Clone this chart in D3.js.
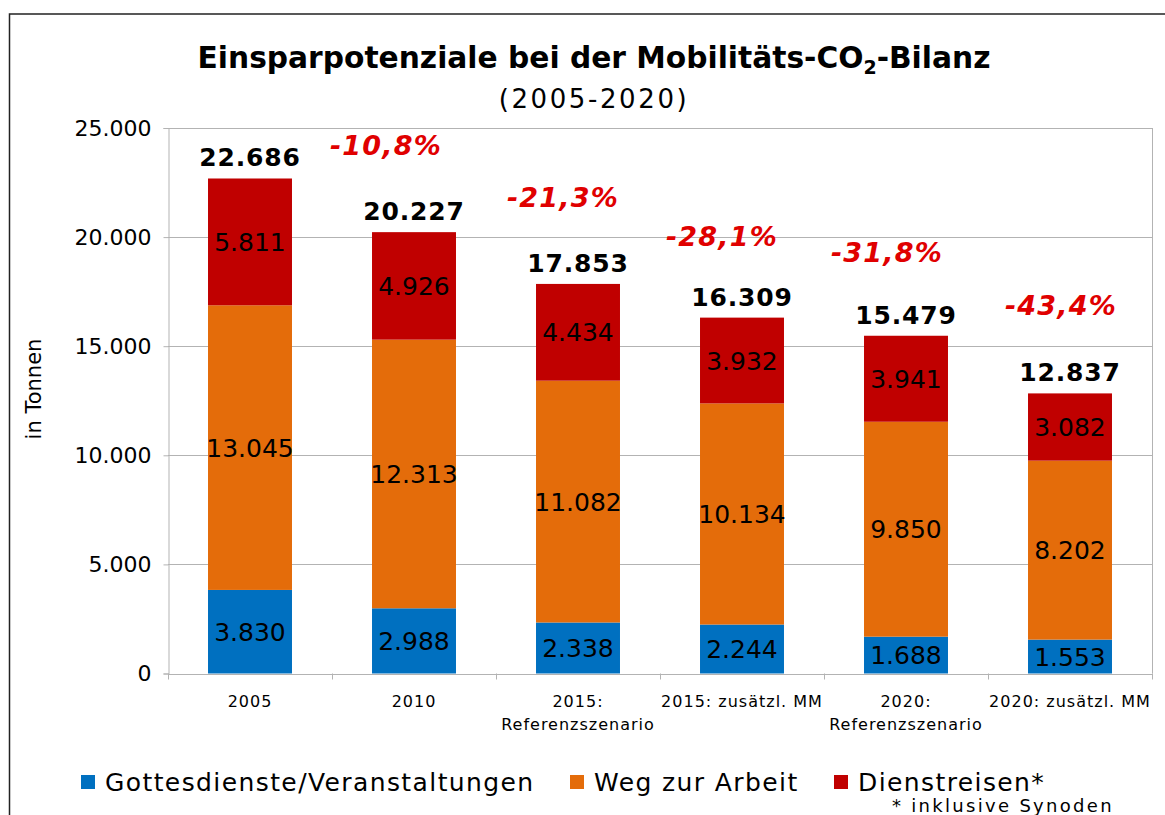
<!DOCTYPE html>
<html>
<head>
<meta charset="utf-8">
<script src="https://cdn.jsdelivr.net/npm/d3@7"></script>
<style>
  body { margin: 0; background: #fff; }
  text { font-family: "DejaVu Sans", Verdana, sans-serif; }
</style>
</head>
<body>
<script>
// Values
var categories = [["2005"], ["2010"], ["2015:", "Referenzszenario"], ["2015: zusätzl. MM"], ["2020:", "Referenzszenario"], ["2020: zusätzl. MM"]];
var seriesNames = ["Gottesdienste/Veranstaltungen", "Weg zur Arbeit", "Dienstreisen*"];
var gottesdienste = [3830, 2988, 2338, 2244, 1688, 1553];
var wegZurArbeit = [13045, 12313, 11082, 10134, 9850, 8202];
var dienstreisen = [5811, 4926, 4434, 3932, 3941, 3082];
var totals = [22686, 20227, 17853, 16309, 15479, 12837];
var changes = [null, "-10,8%", "-21,3%", "-28,1%", "-31,8%", "-43,4%"];
var yTicks = [0, 5000, 10000, 15000, 20000, 25000];
var colors = ["#0070c0", "#e46c0a", "#c00000"];

var width = 1165, height = 815;
var plotLeft = 168, plotRight = 1152, plotTop = 128, plotBottom = 673.5;

var de = d3.formatLocale({decimal: ",", thousands: ".", grouping: [3], currency: ["", " €"]});
var fmt = de.format(",d");

var svg = d3.select("body").append("svg")
            .attr("width", width)
            .attr("height", height);

// outer frame
svg.append("path")
   .attr("d", "M9.5," + height + "V14H" + width)
   .attr("fill", "none")
   .attr("stroke", "#222")
   .attr("stroke-width", 1.5);

// title
var title = svg.append("text")
               .attr("x", 594).attr("y", 68)
               .attr("text-anchor", "middle")
               .attr("font-size", 29.7).attr("font-weight", "bold");
title.append("tspan").text("Einsparpotenziale bei der Mobilitäts-CO");
title.append("tspan").attr("font-size", 19).attr("dy", 6).text("2");
title.append("tspan").attr("dy", -6).text("-Bilanz");

svg.append("text")
   .attr("x", 594).attr("y", 108)
   .attr("text-anchor", "middle")
   .attr("font-size", 26)
   .attr("letter-spacing", 2.6)
   .text("(2005-2020)");

var x = d3.scaleBand()
          .domain(d3.range(categories.length))
          .range([plotLeft, plotRight])
          .paddingInner(0.488)
          .paddingOuter(0.244);

var y = d3.scaleLinear()
          .domain([0, 25000])
          .range([plotBottom, plotTop]);

// gridlines
svg.append("g").selectAll("line")
   .data(yTicks.slice(1))
   .join("line")
   .attr("x1", plotLeft).attr("x2", plotRight)
   .attr("y1", function(d) { return Math.round(y(d)) + 0.5; })
   .attr("y2", function(d) { return Math.round(y(d)) + 0.5; })
   .attr("stroke", "#b3b3b3");

// right border
svg.append("line")
   .attr("x1", plotRight + 0.5).attr("x2", plotRight + 0.5)
   .attr("y1", y(25000)).attr("y2", y(0))
   .attr("stroke", "#b3b3b3");

// y axis
var yAxis = svg.append("g")
               .attr("transform", "translate(" + (plotLeft + 0.5) + ",0)")
               .call(d3.axisLeft(y).tickValues(yTicks).tickFormat(fmt).tickSizeOuter(0).tickSize(5).tickPadding(12));
yAxis.select(".domain").attr("stroke", "#b3b3b3");
yAxis.selectAll(".tick line").attr("stroke", "#b3b3b3");
yAxis.selectAll(".tick text")
     .attr("font-family", "DejaVu Sans, sans-serif")
     .attr("font-size", 22).attr("fill", "#000");

svg.append("text")
   .attr("transform", "translate(41,389) rotate(-90)")
   .attr("text-anchor", "middle")
   .attr("font-size", 21)
   .text("in Tonnen");

// stacked data
var rows = categories.map(function(c, i) {
  return [gottesdienste[i], wegZurArbeit[i], dienstreisen[i]];
});
var stack = d3.stack().keys([0, 1, 2])(rows);

var layers = svg.append("g").selectAll("g")
                .data(stack)
                .join("g")
                .attr("fill", function(d, i) { return colors[i]; });

layers.selectAll("rect")
      .data(function(d) { return d; })
      .join("rect")
      .attr("x", function(d, i) { return x(i); })
      .attr("width", x.bandwidth())
      .attr("y", function(d) { return y(d[1]); })
      .attr("height", function(d) { return y(d[0]) - y(d[1]); });

layers.selectAll("text")
      .data(function(d) { return d; })
      .join("text")
      .attr("x", function(d, i) { return x(i) + x.bandwidth() / 2; })
      .attr("y", function(d) { return (y(d[0]) + y(d[1])) / 2 + 9; })
      .attr("text-anchor", "middle")
      .attr("font-size", 25)
      .attr("fill", "#000")
      .text(function(d) { return fmt(d[1] - d[0]); });

// x axis baseline and ticks
svg.append("line")
   .attr("x1", plotLeft).attr("x2", plotRight)
   .attr("y1", Math.round(y(0)) + 0.5).attr("y2", Math.round(y(0)) + 0.5)
   .attr("stroke", "#b3b3b3");

var step = x.step();
svg.append("g").selectAll("line")
   .data(d3.range(categories.length + 1))
   .join("line")
   .attr("x1", function(i) { return Math.round(plotLeft + i * step) + 0.5; })
   .attr("x2", function(i) { return Math.round(plotLeft + i * step) + 0.5; })
   .attr("y1", y(0)).attr("y2", y(0) + 6)
   .attr("stroke", "#b3b3b3");

var xLabels = svg.append("g").selectAll("text")
                 .data(categories)
                 .join("text")
                 .attr("x", function(d, i) { return x(i) + x.bandwidth() / 2; })
                 .attr("y", 707)
                 .attr("text-anchor", "middle")
                 .attr("font-family", "Liberation Sans, Arial, sans-serif")
                 .attr("font-size", 16)
                 .attr("letter-spacing", 1);
xLabels.selectAll("tspan")
       .data(function(d) { return d; })
       .join("tspan")
       .attr("x", function() { return this.parentNode.getAttribute("x"); })
       .attr("dy", function(d, j) { return j ? 23 : 0; })
       .text(function(d) { return d; });

// totals above bars
svg.append("g").selectAll("text")
   .data(totals)
   .join("text")
   .attr("x", function(d, i) { return x(i) + x.bandwidth() / 2; })
   .attr("y", function(d, i) { return y(d) - 12; })
   .attr("text-anchor", "middle")
   .attr("font-size", 25).attr("font-weight", "bold")
   .attr("letter-spacing", 0.8)
   .text(function(d) { return fmt(d); });

// change vs 2005, placed up and left of each bar top (hand-nudged like the original)
var nudgeX = [0, -28, -15, -20, -19, -9];
var nudgeY = [0, -77, -77, -72, -74, -78];
var changeData = changes.map(function(c, i) { return {label: c, i: i}; })
                        .filter(function(d) { return d.label; });
svg.append("g").selectAll("text")
   .data(changeData)
   .join("text")
   .attr("x", function(d) { return x(d.i) + x.bandwidth() / 2 + nudgeX[d.i]; })
   .attr("y", function(d) { return y(totals[d.i]) + nudgeY[d.i]; })
   .attr("text-anchor", "middle")
   .attr("font-size", 27).attr("font-weight", "bold").attr("font-style", "italic")
   .attr("letter-spacing", 1.2)
   .attr("fill", "#e00000")
   .text(function(d) { return d.label; });

// legend
var legendX = [81, 570, 834];
var legend = svg.append("g").selectAll("g")
                .data(seriesNames)
                .join("g")
                .attr("transform", function(d, i) { return "translate(" + legendX[i] + ",775)"; });
legend.append("rect")
      .attr("width", 14).attr("height", 14)
      .attr("fill", function(d, i) { return colors[i]; });
legend.append("text")
      .attr("x", 24).attr("y", 16)
      .attr("font-size", 25)
      .attr("letter-spacing", 1.4)
      .text(function(d) { return d; });

svg.append("text")
   .attr("x", 892).attr("y", 812)
   .attr("font-size", 18)
   .attr("letter-spacing", 2.3)
   .text("* inklusive Synoden");
</script>
</body>
</html>
